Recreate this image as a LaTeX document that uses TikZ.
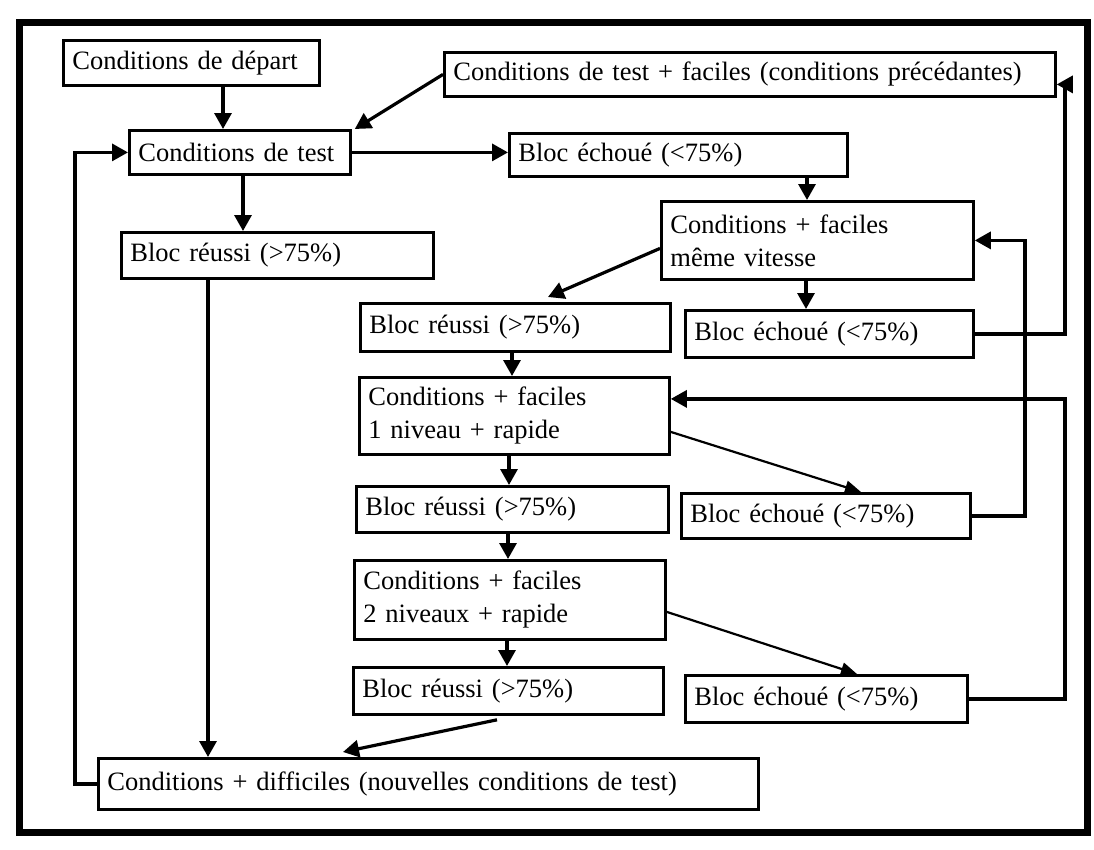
\documentclass[tikz,border=0pt]{standalone}
\usepackage{fontspec}
\setmainfont{Liberation Serif}
\usetikzlibrary{arrows.meta,calc}
\tikzset{
  box/.style={draw, line width=2.8pt, anchor=north west, inner xsep=9pt, inner ysep=0pt, align=left, font=\fontsize{26.5}{33}\selectfont},
  arr/.style={line width=3.2pt, -{Triangle[length=16pt,width=17pt]}},
  thinarr/.style={line width=2.2pt, -{Triangle[length=16pt,width=13pt]}},
}
\newcommand{\bx}[6]{\pgfmathsetmacro\mytw{#4-18}\node[box, text width=\mytw pt, minimum width=#4pt, minimum height=#5pt] (#1) at (#2,#3) {#6};}
\begin{document}
\begin{tikzpicture}[x=1pt,y=-1pt]
\useasboundingbox (0,0) rectangle (1094,849);
\draw[line width=7pt] (19,22) rectangle (1087,832);

\bx{dep}{62}{39}{256}{45}{Conditions de départ}
\bx{easy}{443}{51}{611}{44}{Conditions de test + faciles (conditions précédantes)}
\bx{test}{128}{129}{221}{44}{Conditions de test}
\bx{ech0}{508}{132}{338}{43}{Bloc échoué (<75\%)}
\bx{reu0}{120}{231}{312}{46}{Bloc réussi (>75\%)}
\bx{same}{660}{200}{312}{78}{Conditions + faciles\\même vitesse}
\bx{reu1}{359}{302}{310}{48}{Bloc réussi (>75\%)}
\bx{ech1}{684}{309}{288}{47}{Bloc échoué (<75\%)}
\bx{niv1}{358}{376}{310}{77}{Conditions + faciles\\1 niveau + rapide}
\bx{reu2}{355}{485}{312}{46}{Bloc réussi (>75\%)}
\bx{ech2}{680}{492}{289}{45}{Bloc échoué (<75\%)}
\bx{niv2}{353}{559}{311}{79}{Conditions + faciles\\2 niveaux + rapide}
\bx{reu3}{352}{666}{310}{47}{Bloc réussi (>75\%)}
\bx{ech3}{684}{674}{282}{47}{Bloc échoué (<75\%)}
\bx{diff}{97}{757}{660}{51}{Conditions + difficiles (nouvelles conditions de test)}

% main flow
\draw[arr] (223,0 |- dep.south) -- (223,0 |- test.north);
\draw[arr] (easy.west) -- ([xshift=3pt]test.north east);
\draw[arr] (test.east) -- (test.east -| ech0.west);
\draw[arr] (243,0 |- test.south) -- (243,0 |- reu0.north);
\draw[arr] (208,0 |- reu0.south) -- (208,0 |- diff.north);
\draw[arr] (diff.west) -- (75,0 |- diff.west) |- (test.west);

\draw[arr] (807,0 |- ech0.south) -- (807,0 |- same.north);
\draw[arr] ([yshift=-8pt]same.west) -- ([yshift=5pt]548,0 |- reu1.north);
\draw[arr] (806,0 |- same.south) -- (806,0 |- ech1.north);
\draw[arr] (ech1.east) -- (1065,0 |- ech1.east) |- ([yshift=-10pt]easy.east);

\draw[arr] (512,0 |- reu1.south) -- (512,0 |- niv1.north);
\draw[arr] (ech2.east) -- (1025,0 |- ech2.east) |- (same.east);
\draw[thinarr] ([yshift=-16pt]niv1.east) -- (861,0 |- ech2.north);
\draw[arr] (509,0 |- niv1.south) -- (509,0 |- reu2.north);
\draw[arr] (ech3.east) -- (1065,0 |- ech3.east) |- ([yshift=17pt]niv1.east);

\draw[arr] (508,0 |- reu2.south) -- (508,0 |- niv2.north);
\draw[thinarr] ([yshift=-12pt]niv2.east) -- (857,0 |- ech3.north);
\draw[arr] (507,0 |- niv2.south) -- (507,0 |- reu3.north);
\draw[arr] ([yshift=-4pt]497,0 |- reu3.south) -- ([yshift=5pt]343,0 |- diff.north);
\end{tikzpicture}
\end{document}
